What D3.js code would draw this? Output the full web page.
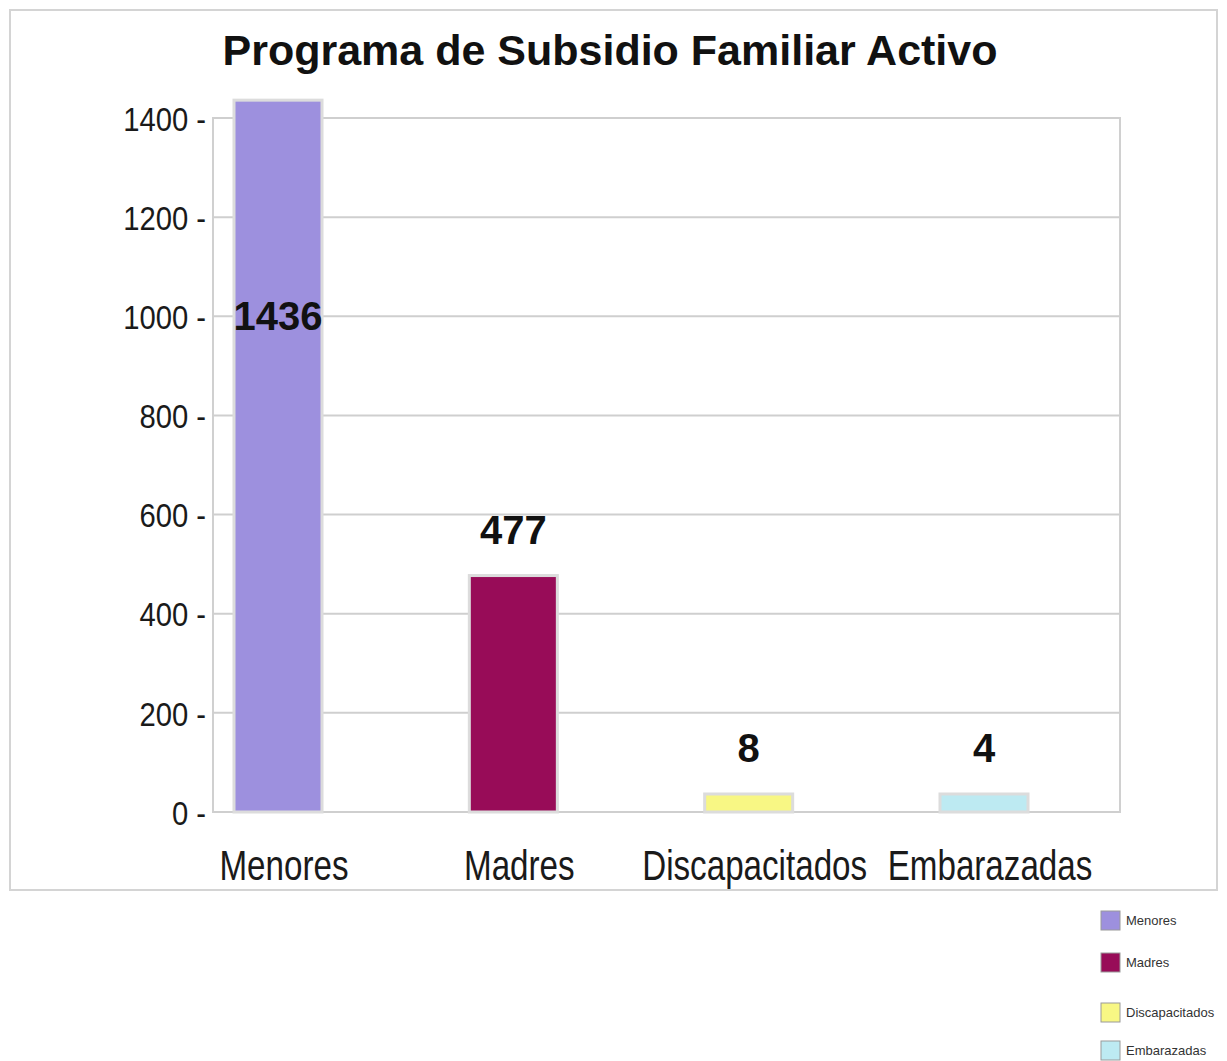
<!DOCTYPE html>
<html>
<head>
<meta charset="utf-8">
<script src="https://cdn.jsdelivr.net/npm/d3@7"></script>
<style>
  body { margin:0; background:#fff; }
  text { font-family: "Liberation Sans", Arial, sans-serif; }
</style>
</head>
<body>
<div id="chart-area"></div>
<script>
var categories = ["Menores", "Madres", "Discapacitados", "Embarazadas"];
var values = [1436, 477, 8, 4];
var yTicks = [0, 200, 400, 600, 800, 1000, 1200, 1400];
var colors = ["#9d90de", "#980c58", "#f8f784", "#bdeaf2"];

var plot = { left:213, right:1120, top:118, bottom:812 };

var svg = d3.select("#chart-area")
    .append("svg")
    .attr("width", 1227)
    .attr("height", 1061);

svg.append("rect")
    .attr("width", 1227).attr("height", 1061)
    .attr("fill", "#fff");

// outer frame
svg.append("rect")
    .attr("x", 10).attr("y", 10)
    .attr("width", 1207).attr("height", 880)
    .attr("fill", "none")
    .attr("stroke", "#d4d4d4")
    .attr("stroke-width", 2);

svg.append("text")
    .attr("x", 610)
    .attr("y", 65)
    .attr("text-anchor", "middle")
    .attr("font-size", "43px")
    .attr("font-weight", "bold")
    .attr("fill", "#111")
    .text("Programa de Subsidio Familiar Activo");

var y = d3.scaleLinear()
    .domain([0, 1400])
    .range([plot.bottom, plot.top]);

var x = d3.scalePoint()
    .domain(categories)
    .range([278, 984]);

// plot area
svg.append("rect")
    .attr("x", plot.left).attr("y", plot.top)
    .attr("width", plot.right - plot.left)
    .attr("height", plot.bottom - plot.top)
    .attr("fill", "none")
    .attr("stroke", "#d0d0d0")
    .attr("stroke-width", 2);

svg.append("g").selectAll("line")
    .data(yTicks)
    .enter().append("line")
    .attr("x1", plot.left).attr("x2", plot.right)
    .attr("y1", function(d){ return y(d); })
    .attr("y2", function(d){ return y(d); })
    .attr("stroke", "#cfcfcf")
    .attr("stroke-width", 2);

var yAxisCall = d3.axisLeft(y)
    .tickValues(yTicks)
    .tickSize(0)
    .tickPadding(0)
    .tickFormat(function(d){ return d + " -"; });
var yAxis = svg.append("g")
    .attr("transform", "translate(206,0)")
    .call(yAxisCall);
yAxis.select(".domain").remove();
yAxis.selectAll("text")
    .attr("font-size", "34px")
    .attr("fill", "#1a1a1a")
    .attr("dy", "0.36em")
    .attr("transform", "scale(0.86,1)");

var barWidth = 88;
var minBar = 18;

svg.append("g").selectAll("rect")
    .data(values)
    .enter().append("rect")
    .attr("x", function(d,i){ return x(categories[i]) - barWidth/2; })
    .attr("width", barWidth)
    .attr("y", function(d){ return Math.min(y(d), y(0) - minBar); })
    .attr("height", function(d){ return Math.max(y(0) - y(d), minBar); })
    .attr("fill", function(d,i){ return colors[i]; })
    .attr("stroke", "#dcdcdc")
    .attr("stroke-width", 3);

svg.append("g").selectAll("text")
    .data(values)
    .enter().append("text")
    .attr("x", function(d,i){ return x(categories[i]); })
    .attr("y", function(d){
      var top = Math.min(y(d), y(0) - minBar);
      // labels that would run above the plot sit inside the bar
      return (top - 30 < plot.top) ? y(1000) + 14 : top - 32;
    })
    .attr("text-anchor", "middle")
    .attr("font-size", "40px")
    .attr("font-weight", "bold")
    .attr("fill", "#111")
    .text(function(d){ return d; });

svg.append("g").selectAll("text")
    .data(categories)
    .enter().append("text")
    .attr("transform", function(d){ return "translate(" + (x(d) + 6) + ",880) scale(0.79,1)"; })
    .attr("text-anchor", "middle")
    .attr("font-size", "42px")
    .attr("fill", "#1a1a1a")
    .text(function(d){ return d; });

var legendY = [920, 962, 1012, 1050];
var legend = svg.append("g").selectAll("g")
    .data(categories)
    .enter().append("g")
    .attr("transform", function(d,i){ return "translate(1101," + legendY[i] + ")"; });
legend.append("rect")
    .attr("x", 0).attr("y", -9)
    .attr("width", 19).attr("height", 19)
    .attr("fill", function(d,i){ return colors[i]; })
    .attr("stroke", "#9a9a9a")
    .attr("stroke-width", 1);
legend.append("text")
    .attr("x", 25)
    .attr("y", 5)
    .attr("font-size", "13px")
    .attr("fill", "#333")
    .text(function(d){ return d; });
</script>
</body>
</html>
